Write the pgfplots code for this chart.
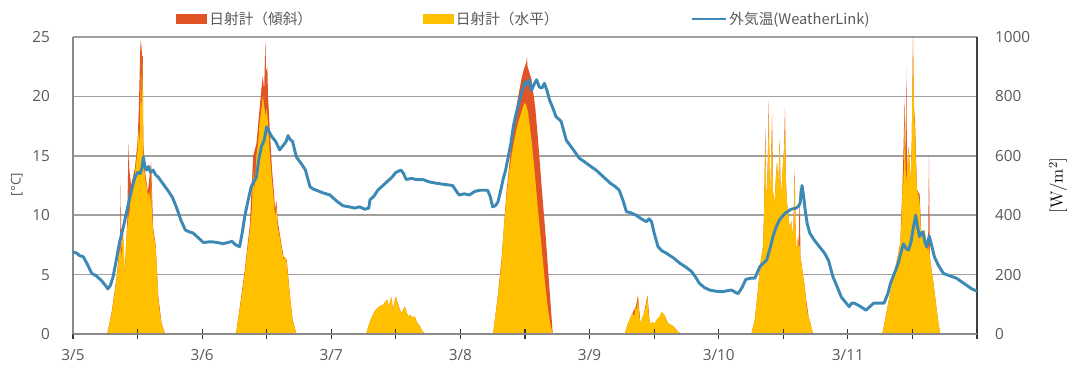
\documentclass[border=0pt]{standalone}
\usepackage{fontspec}
\newfontfamily\os{Open Sans}
\newfontfamily\jp{Noto Sans CJK JP}
\usepackage{pgfplots}
\usepackage{pgfplotstable}
\pgfplotsset{compat=1.18}
\definecolor{tilt}{RGB}{224,84,38}
\definecolor{horiz}{RGB}{255,192,0}
\definecolor{temp}{RGB}{61,137,181}
\definecolor{tickgray}{RGB}{89,89,89}
\definecolor{gridgray}{RGB}{160,160,160}
\definecolor{axgray}{RGB}{137,137,137}

% day offset from 3/5 00:00, irradiance W/m2 (tilted)
\pgfplotstableread{
d w
0 0
0.265 0
0.30 75
0.34 200
0.365 320
0.37 509
0.375 270
0.385 360
0.40 200
0.42 380
0.43 644
0.435 560
0.45 500
0.48 560
0.50 650
0.51 760
0.52 950
0.525 990
0.53 970
0.535 930
0.54 940
0.545 640
0.56 540
0.58 480
0.605 580
0.62 360
0.64 300
0.66 130
0.685 38
0.712 0
1.262 0
1.29 85
1.33 215
1.37 370
1.395 600
1.42 640
1.445 760
1.46 830
1.47 870
1.48 820
1.49 990
1.495 880
1.505 900
1.51 802
1.525 680
1.54 560
1.555 480
1.565 420
1.575 450
1.585 380
1.60 340
1.63 260
1.655 250
1.68 130
1.70 50
1.73 0
2.27 0
2.29 30
2.31 53
2.335 75
2.355 87
2.38 95
2.40 98
2.42 110
2.435 115
2.445 90
2.455 111
2.467 124
2.477 80
2.49 110
2.50 126
2.51 110
2.525 90
2.544 70
2.56 85
2.57 92
2.585 70
2.60 58
2.61 65
2.63 55
2.645 60
2.66 42
2.68 30
2.70 14
2.724 0
3.253 0
3.29 130
3.318 250
3.357 480
3.395 640
3.434 768
3.472 858
3.49 890
3.51 914
3.515 935
3.52 900
3.55 858
3.58 760
3.60 660
3.63 490
3.66 330
3.69 150
3.715 0
4.272 0
4.298 36
4.332 70
4.358 92
4.375 130
4.394 36
4.422 70
4.448 130
4.466 36
4.505 36
4.543 59
4.574 68
4.608 36
4.646 27
4.685 8
4.711 0
5.253 0
5.279 47
5.304 149
5.323 239
5.343 295
5.352 420
5.361 700
5.367 480
5.374 486
5.381 600
5.387 790
5.394 520
5.40 464
5.407 600
5.413 740
5.42 480
5.433 441
5.442 520
5.451 577
5.462 500
5.472 655
5.478 520
5.485 464
5.492 530
5.498 577
5.506 620
5.513 760
5.52 520
5.529 441
5.54 400
5.55 351
5.562 380
5.575 329
5.582 420
5.588 560
5.594 380
5.601 284
5.608 300
5.614 329
5.62 290
5.627 498
5.633 260
5.64 239
5.652 200
5.666 160
5.675 120
5.683 100
5.695 60
5.71 36
5.73 0
6.267 0
6.298 70
6.337 160
6.375 239
6.406 306
6.427 554
6.44 790
6.447 560
6.453 900
6.458 540
6.471 633
6.486 509
6.495 650
6.504 1000
6.512 760
6.52 720
6.535 486
6.556 470
6.569 329
6.594 351
6.612 295
6.622 320
6.628 599
6.635 260
6.641 239
6.659 182
6.685 92
6.70 40
6.716 0
7 0
}\tilttab

% irradiance W/m2 (horizontal)
\pgfplotstableread{
d w
0 0
0.265 0
0.28 30
0.30 70
0.32 130
0.34 194
0.355 260
0.365 307
0.375 250
0.385 351
0.395 300
0.40 182
0.41 300
0.42 360
0.43 396
0.44 420
0.45 486
0.46 470
0.47 520
0.48 543
0.49 580
0.50 620
0.505 689
0.515 640
0.522 800
0.527 940
0.532 700
0.538 915
0.545 600
0.55 560
0.56 520
0.57 500
0.58 464
0.59 480
0.60 440
0.605 565
0.61 420
0.62 351
0.63 320
0.64 295
0.65 220
0.66 126
0.67 80
0.685 36
0.712 0
1.262 0
1.29 81
1.31 140
1.33 205
1.35 280
1.37 351
1.385 420
1.395 554
1.405 480
1.42 599
1.435 650
1.445 712
1.46 760
1.47 802
1.48 770
1.49 734
1.50 760
1.51 712
1.525 600
1.54 520
1.555 450
1.565 396
1.575 428
1.585 360
1.60 329
1.615 290
1.63 250
1.645 260
1.655 240
1.67 170
1.68 126
1.70 47
1.73 0
2.27 0
2.29 30
2.31 53
2.335 75
2.355 87
2.38 95
2.40 98
2.42 110
2.435 115
2.445 90
2.455 111
2.467 124
2.477 80
2.49 110
2.50 126
2.51 110
2.525 90
2.544 70
2.56 85
2.57 92
2.585 70
2.60 58
2.61 65
2.63 55
2.645 60
2.66 42
2.68 30
2.70 14
2.724 0
3.253 0
3.27 60
3.29 126
3.318 239
3.335 350
3.357 464
3.375 540
3.395 599
3.415 650
3.434 689
3.452 720
3.472 746
3.485 765
3.498 779
3.51 770
3.524 746
3.537 700
3.55 655
3.576 540
3.60 420
3.627 300
3.653 180
3.679 80
3.70 25
3.715 0
4.272 0
4.285 20
4.298 36
4.315 55
4.332 70
4.345 60
4.358 92
4.366 80
4.375 126
4.385 60
4.394 36
4.408 55
4.422 70
4.435 90
4.448 126
4.457 70
4.466 36
4.485 40
4.505 36
4.52 50
4.543 59
4.556 75
4.574 68
4.59 50
4.608 36
4.626 32
4.646 27
4.665 15
4.685 8
4.711 0
5.253 0
5.279 47
5.304 149
5.323 239
5.343 295
5.352 420
5.361 655
5.367 480
5.374 486
5.381 600
5.387 746
5.394 520
5.40 464
5.407 600
5.413 712
5.42 480
5.433 441
5.442 520
5.451 577
5.462 500
5.472 655
5.478 520
5.485 464
5.492 530
5.498 577
5.506 620
5.513 723
5.52 520
5.529 441
5.54 400
5.55 351
5.562 380
5.575 329
5.582 420
5.588 531
5.594 380
5.601 284
5.608 300
5.614 329
5.62 290
5.627 300
5.633 260
5.64 239
5.652 200
5.666 160
5.675 120
5.683 81
5.695 60
5.71 36
5.73 0
6.267 0
6.282 30
6.298 70
6.318 115
6.337 160
6.356 200
6.375 239
6.39 270
6.406 306
6.415 380
6.427 554
6.433 480
6.44 746
6.447 560
6.453 509
6.462 580
6.471 633
6.478 560
6.486 509
6.495 650
6.504 993
6.512 760
6.52 689
6.528 560
6.535 486
6.545 470
6.556 441
6.562 380
6.569 329
6.58 340
6.594 351
6.603 310
6.612 295
6.62 280
6.628 300
6.635 260
6.641 239
6.65 210
6.659 182
6.672 140
6.685 92
6.70 40
6.716 0
7 0
}\horiztab

% outside temperature (deg C)
\pgfplotstableread{
d t
0 6.9
0.03 6.8
0.05 6.6
0.08 6.5
0.11 5.9
0.145 5.1
0.18 4.9
0.22 4.5
0.25 4.1
0.27 3.8
0.29 4.1
0.31 4.8
0.335 6.2
0.36 7.7
0.39 9.0
0.43 11.0
0.455 12.2
0.48 13.2
0.50 13.6
0.52 13.5
0.535 14.0
0.545 14.9
0.555 14.2
0.57 13.8
0.585 14.1
0.60 13.6
0.62 13.8
0.64 13.4
0.66 13.2
0.70 12.6
0.74 12.0
0.77 11.5
0.80 10.7
0.835 9.6
0.87 8.75
0.90 8.6
0.93 8.5
0.97 8.1
1.01 7.7
1.05 7.75
1.085 7.75
1.12 7.7
1.16 7.6
1.20 7.7
1.23 7.8
1.26 7.5
1.29 7.35
1.31 8.5
1.33 9.9
1.355 11.2
1.38 12.4
1.40 12.8
1.42 13.2
1.44 14.8
1.46 15.8
1.48 16.3
1.50 17.45
1.52 17.0
1.54 16.6
1.57 16.2
1.60 15.5
1.63 15.9
1.65 16.2
1.665 16.7
1.68 16.4
1.70 16.2
1.73 14.9
1.77 14.3
1.80 13.8
1.835 12.4
1.86 12.2
1.885 12.1
1.93 11.9
1.99 11.7
2.04 11.2
2.09 10.8
2.14 10.7
2.18 10.6
2.22 10.7
2.26 10.5
2.29 10.6
2.30 11.3
2.33 11.6
2.36 12.1
2.40 12.5
2.44 12.9
2.47 13.2
2.50 13.6
2.54 13.8
2.56 13.5
2.58 13.0
2.62 13.1
2.66 13.0
2.71 13.0
2.76 12.8
2.81 12.7
2.87 12.6
2.94 12.5
2.97 12.0
2.99 11.7
3.03 11.8
3.07 11.7
3.11 12.0
3.15 12.1
3.21 12.1
3.23 11.6
3.25 10.7
3.27 10.8
3.29 11.1
3.31 12.0
3.33 13.0
3.35 13.8
3.37 14.9
3.39 16.0
3.41 17.5
3.43 18.5
3.45 19.3
3.47 20.2
3.49 20.8
3.50 21.2
3.515 21.0
3.53 21.4
3.55 20.5
3.57 21.0
3.59 21.4
3.61 20.8
3.63 20.7
3.65 21.1
3.67 20.5
3.69 19.7
3.72 18.9
3.74 18.3
3.78 17.9
3.82 16.3
3.875 15.5
3.92 14.8
3.96 14.5
4.01 14.1
4.05 13.8
4.08 13.5
4.12 13.1
4.16 12.7
4.20 12.4
4.23 12.1
4.26 11.2
4.285 10.3
4.32 10.2
4.36 10.0
4.40 9.7
4.44 9.45
4.46 9.7
4.48 9.45
4.50 8.5
4.53 7.35
4.56 7.0
4.595 6.8
4.65 6.4
4.70 5.95
4.75 5.6
4.79 5.25
4.82 4.8
4.85 4.27
4.89 3.9
4.93 3.7
4.98 3.6
5.03 3.56
5.07 3.65
5.10 3.7
5.13 3.5
5.15 3.4
5.18 3.9
5.21 4.6
5.25 4.7
5.28 4.7
5.30 5.2
5.32 5.7
5.35 6.0
5.37 6.2
5.40 7.3
5.42 8.2
5.445 9.0
5.47 9.6
5.50 10.0
5.52 10.2
5.56 10.5
5.60 10.6
5.62 10.8
5.63 11.0
5.645 12.5
5.655 11.8
5.67 10.4
5.685 9.3
5.705 8.5
5.74 7.9
5.78 7.35
5.82 6.8
5.85 6.2
5.87 5.4
5.885 4.8
5.92 3.9
5.95 3.1
5.98 2.7
6.01 2.3
6.03 2.6
6.05 2.6
6.10 2.3
6.14 2.0
6.17 2.3
6.20 2.6
6.24 2.6
6.28 2.6
6.31 3.4
6.33 4.27
6.36 5.1
6.39 5.95
6.41 6.8
6.43 7.6
6.45 7.2
6.47 7.07
6.49 7.8
6.50 8.5
6.525 10.0
6.54 9.0
6.555 8.2
6.57 8.5
6.58 8.6
6.60 7.6
6.61 7.35
6.63 8.25
6.65 7.4
6.67 6.5
6.70 5.8
6.74 5.1
6.79 4.9
6.84 4.7
6.88 4.4
6.92 4.1
6.96 3.8
7.0 3.6
}\temptab

\begin{document}
\begin{tikzpicture}[x=1pt,y=1pt]
\useasboundingbox (0,0) rectangle (803.25,276.75);
% radiation axis (right)
\begin{axis}[
  at={(54.75pt,26.25pt)}, anchor=south west,
  scale only axis, width=678pt, height=222.75pt,
  xmin=0, xmax=7, ymin=0, ymax=1000,
  axis x line=none, axis y line*=right,
  ytick={0,200,...,1000}, major tick length=0pt,
  ymajorgrids, grid style={gridgray, line width=1.1pt},
  y axis line style={draw=black!75, line width=1pt},
  /pgf/number format/assume math mode=true,
  /pgf/number format/1000 sep={},
  yticklabel style={font=\os\fontsize{11.5}{13}\selectfont, text=tickgray, xshift=10pt},
  ylabel={[W/m$^2$]},
  ylabel style={at={(axis description cs:1.0896,0.5)}, anchor=center, font=\fontsize{13}{15}\selectfont},
]
\addplot[draw=none, fill=tilt] table[x=d, y=w] {\tilttab} \closedcycle;
\addplot[draw=none, fill=horiz] table[x=d, y=w] {\horiztab} \closedcycle;
\end{axis}
% temperature axis (left)
\begin{axis}[
  at={(54.75pt,26.25pt)}, anchor=south west,
  scale only axis, width=678pt, height=222.75pt,
  xmin=0, xmax=7, ymin=0, ymax=25,
  axis x line*=bottom, axis y line*=left,
  x axis line style={draw=axgray, line width=1.6pt},
  y axis line style={draw=axgray, line width=1.2pt},
  xtick={0,0.5,...,7},
  xticklabels={3/5,,3/6,,3/7,,3/8,,3/9,,3/10,,3/11,,},
  tick align=center, major tick length=7.5pt,
  x tick style={draw=black!80, line width=0.9pt},
  ytick={0,5,...,25}, y tick style={draw=none},
  /pgf/number format/assume math mode=true,
  xticklabel style={font=\os\fontsize{11.5}{13}\selectfont, text=tickgray, yshift=-4pt},
  yticklabel style={font=\os\fontsize{11.5}{13}\selectfont, text=tickgray, xshift=-10pt},
  ylabel={[°C]},
  ylabel style={at={(axis description cs:-0.062,0.503)}, anchor=center, font=\os\fontsize{10}{12}\selectfont, text=tickgray},
  legend columns=3,
  legend style={draw=none, fill=none, at={(axis description cs:0.1095,1)}, anchor=west, yshift=13.5pt,
    font=\jp\fontsize{11}{13}\selectfont, text=tickgray,
    /tikz/every even column/.append style={column sep=81pt}},
]
\addlegendimage{legend image code/.code={\fill[tilt] (0pt,-3.4pt) rectangle (22.5pt,3.4pt);}}
\addlegendentry{日射計（傾斜）}
\addlegendimage{legend image code/.code={\fill[horiz] (0pt,-3.4pt) rectangle (22.5pt,3.4pt);}}
\addlegendentry{日射計（水平）\hspace*{16pt}}
\addplot[temp, line width=2.2pt, line join=round,
  legend image code/.code={\draw[temp, line width=1.6pt] (0pt,0pt) -- (25.5pt,0pt);}]
  table[x=d, y=t] {\temptab};
\addlegendentry{外気温(WeatherLink)}
\end{axis}
\end{tikzpicture}
\end{document}
